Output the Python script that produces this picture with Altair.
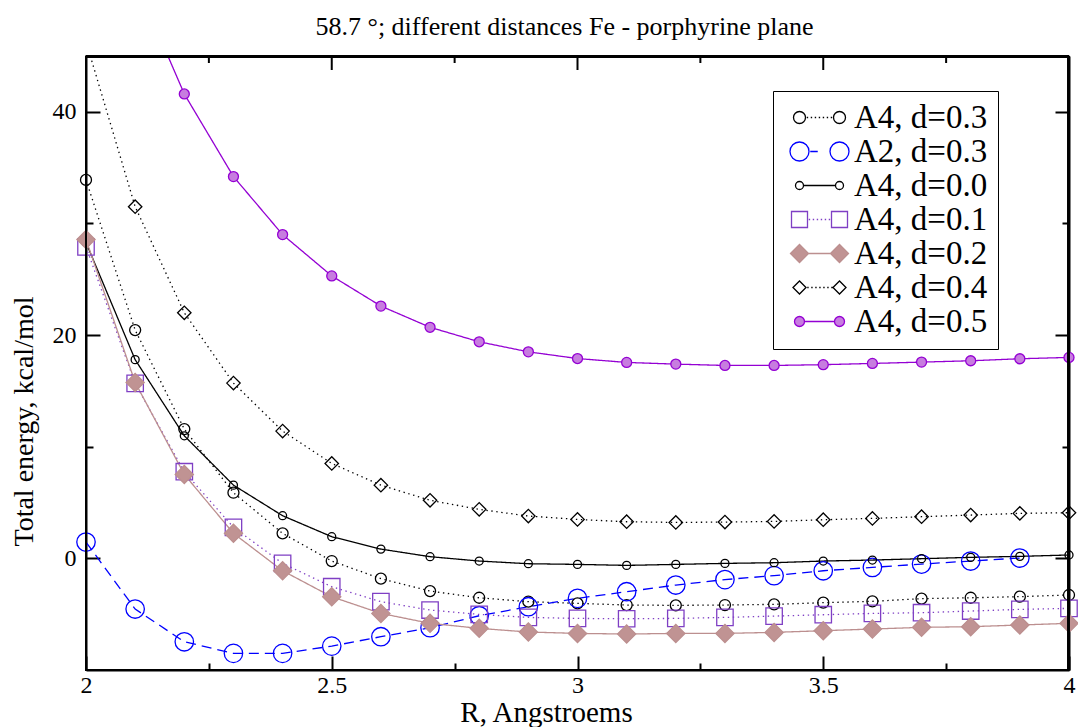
import altair as alt
import pandas as pd

# ---------------- data ----------------
r_values = [2.0, 2.1, 2.2, 2.3, 2.4, 2.5, 2.6, 2.7, 2.8, 2.9, 3.0,
            3.1, 3.2, 3.3, 3.4, 3.5, 3.6, 3.7, 3.8, 3.9, 4.0]

series_names = ["A4, d=0.3", "A2, d=0.3", "A4, d=0.0", "A4, d=0.1",
                "A4, d=0.2", "A4, d=0.4", "A4, d=0.5"]

a4_d03 = [33.9, 20.45, 11.58, 5.88, 2.24, -0.24, -1.82, -2.93, -3.53, -3.88, -4.03,
          -4.18, -4.21, -4.18, -4.12, -3.97, -3.85, -3.61, -3.53, -3.43, -3.28]
a2_d03 = [1.46, -4.54, -7.47, -8.51, -8.51, -7.86, -7.02, -6.21, -5.14, -4.33, -3.58,
          -2.99, -2.39, -1.9, -1.55, -1.11, -0.81, -0.51, -0.24, 0.03, None]
a4_d00 = [28.3, 17.8, 10.98, 6.56, 3.82, 1.94, 0.83, 0.15, -0.24, -0.48, -0.54,
          -0.63, -0.54, -0.45, -0.39, -0.24, -0.15, -0.03, 0.09, 0.18, 0.3]
a4_d01 = [27.9, 15.67, 7.76, 2.78, -0.45, -2.54, -3.88, -4.63, -5.02, -5.29, -5.38,
          -5.41, -5.38, -5.29, -5.17, -5.05, -4.93, -4.87, -4.72, -4.57, -4.48]
a4_d02 = [28.57, 15.76, 7.52, 2.24, -1.11, -3.44, -4.93, -5.82, -6.27, -6.6, -6.72,
          -6.78, -6.72, -6.72, -6.63, -6.48, -6.33, -6.18, -6.12, -5.97, -5.82]
a4_d04 = [46.3, 31.5, 22.0, 15.7, 11.4, 8.5, 6.56, 5.2, 4.39, 3.79, 3.49,
          3.28, 3.22, 3.25, 3.31, 3.46, 3.58, 3.73, 3.88, 4.03, 4.09]
a4_d05 = [None, 51.8, 41.6, 34.2, 29.0, 25.3, 22.6, 20.7, 19.4, 18.5, 17.9,
          17.55, 17.4, 17.28, 17.28, 17.35, 17.46, 17.58, 17.7, 17.88, 18.0]

all_series = [a4_d03, a2_d03, a4_d00, a4_d01, a4_d02, a4_d04, a4_d05]

x_domain = [2, 4]
y_domain = [-10, 45]
x_tick_values = [2.0, 2.25, 2.5, 2.75, 3.0, 3.25, 3.5, 3.75, 4.0]
y_tick_values = [0, 10, 20, 30, 40]

rows = []
for name, vals in zip(series_names, all_series):
    for r, v in zip(r_values, vals):
        if v is not None:
            rows.append({"R": r, "E": v, "series": name})
df = pd.DataFrame(rows)

# ---------------- styles ----------------
FONT = "Liberation Serif"
PLOT_W, PLOT_H = 983, 614
Y_PER_PX = (y_domain[1] - y_domain[0]) / PLOT_H
X_PER_PX = (x_domain[1] - x_domain[0]) / PLOT_W
stroke_colors = ["#000000", "#0000ff", "#000000", "#7f3fc4", "#bc8f8f", "#000000", "#9400d3"]
fill_colors = ["transparent", "transparent", "transparent", "transparent",
               "#c09393", "transparent", "#c77ddf"]
shapes = ["circle", "circle", "circle", "square", "diamond", "diamond", "circle"]
sizes = [121, 340, 64, 270, 330, 180, 100]
dashes = [[1.4, 3.6], [10, 6], [1, 0], [1.4, 3.6], [1, 0], [1.4, 3.6], [1, 0]]


def marker_path(kind, cx, h):
    if kind == "circle":
        return (f"M{cx - h},0 A{h},{h} 0 1,0 {cx + h},0 "
                f"A{h},{h} 0 1,0 {cx - h},0 Z")
    if kind == "square":
        return f"M{cx - h},{-h} H{cx + h} V{h} H{cx - h} Z"
    return f"M{cx - h},0 L{cx},{-h} L{cx + h},0 L{cx},{h} Z"


def link_path(x0, x1, style):
    if style == "solid":
        return f"M{x0},0 H{x1}"
    seg, step = (0.28, 0.8) if style == "dot" else (1.5, 2.5)
    out = []
    x = x0 + 0.25
    while x + seg <= x1:
        out.append(f"M{x:.2f},0 h{seg}")
        x += step
    return " ".join(out)


legend_markers = [("circle", 1.2, "dot"), ("circle", 1.9, "dash"), ("circle", 0.8, "solid"),
                  ("square", 1.6, "dot"), ("diamond", 1.8, "solid"), ("diamond", 1.3, "dot"),
                  ("circle", 1.0, "solid")]
legend_paths = []
for kind, h, style in legend_markers:
    c1, c2 = 0.0, 8.0
    legend_paths.append(" ".join([marker_path(kind, c1, h),
                                  link_path(c1 + h, c2 - h, style),
                                  marker_path(kind, c2, h)]))

x_scale = alt.Scale(domain=x_domain, nice=False, zero=False)
y_scale = alt.Scale(domain=y_domain, nice=False, zero=False)

x_tick_in = {"expr": "datum.value % 0.5 === 0 ? -14 : -7"}
y_tick_in = {"expr": "datum.value % 20 === 0 ? -14 : -7"}

common_axis = dict(domainColor="black", domainWidth=2, tickColor="black", tickWidth=2,
                   grid=False, labelFont=FONT, labelFontSize=24, labelColor="black",
                   titleFont=FONT, titleColor="black", titleFontWeight="normal")

x_axis_bottom = alt.Axis(orient="bottom", values=x_tick_values, tickSize=x_tick_in,
                         labelPadding=17, labelFlush=False,
                         labelExpr="datum.value % 0.5 === 0 ? '' + datum.value : ''",
                         title="R, Angstroems", titleFontSize=29, titleX=460, titleY=51,
                         titleBaseline="alphabetic", titleAnchor="start", titleAlign="center",
                         **common_axis)
y_axis_left = alt.Axis(orient="left", values=y_tick_values, tickSize=y_tick_in,
                       labelPadding=24, labelFlush=False,
                       labelExpr="datum.value % 20 === 0 ? '' + datum.value : ''",
                       title="Total energy, kcal/mol", titleFontSize=28, titleX=-62, titleY=365,
                       titleBaseline="middle", titleAlign="center", titleAngle=270,
                       **common_axis)
y_axis_right = alt.Axis(orient="right", values=y_tick_values, tickSize=y_tick_in,
                        labels=False, title=None, domainColor="black", domainWidth=2,
                        tickColor="black", tickWidth=2, grid=False)

base = alt.Chart(df)

lines = base.mark_line(clip=True, strokeWidth=1.3).encode(
    x=alt.X("R:Q", scale=x_scale, axis=x_axis_bottom),
    y=alt.Y("E:Q", scale=y_scale, axis=y_axis_left),
    stroke=alt.Stroke("series:N", scale=alt.Scale(domain=series_names, range=stroke_colors),
                      legend=None),
    strokeDash=alt.StrokeDash("series:N", scale=alt.Scale(domain=series_names, range=dashes),
                              legend=None),
    detail="series:N",
)

# markers outside the visible range are not drawn (as in the original plot)
points = base.transform_filter(
    f"datum.E <= {y_domain[1]}"
).mark_point(filled=True, strokeWidth=1.3, opacity=1).encode(
    x=alt.X("R:Q", scale=x_scale, axis=None),
    y=alt.Y("E:Q", scale=y_scale, axis=y_axis_right),
    shape=alt.Shape("series:N", scale=alt.Scale(domain=series_names, range=shapes), legend=None),
    stroke=alt.Stroke("series:N", scale=alt.Scale(domain=series_names, range=stroke_colors),
                      legend=None),
    fill=alt.Fill("series:N", scale=alt.Scale(domain=series_names, range=fill_colors),
                  legend=None),
    size=alt.Size("series:N", scale=alt.Scale(domain=series_names, range=sizes, type="ordinal"),
                  legend=None),
)

# frame around the plot area and inward ticks along the top, placed through the scales
frame_df = pd.DataFrame({"R": [x_domain[0]]})
top_ticks_df = pd.DataFrame({"R": x_tick_values})
right_ticks_df = pd.DataFrame({"E": y_tick_values})
y_top = y_domain[1] - 0.5 * Y_PER_PX
x_right = x_domain[1] - 0.5 * X_PER_PX

frame_rect = alt.Chart(frame_df).transform_calculate(
    fx0=f"{x_domain[0]}", fx1=f"{x_right}", fy0=f"{y_domain[0]}", fy1=f"{y_top}"
).mark_rect(fill="transparent", stroke="black", strokeWidth=2).encode(
    x=alt.X("fx0:Q", scale=x_scale, axis=None),
    x2="fx1:Q",
    y=alt.Y("fy0:Q", scale=y_scale, axis=None),
    y2="fy1:Q",
)
top_frame = alt.Chart(top_ticks_df).transform_calculate(
    fx0=f"{x_domain[0]}", fx1=f"{x_domain[1]}", fy=f"{y_top}"
).mark_rule(color="black", strokeWidth=2).encode(
    x=alt.X("fx0:Q", scale=x_scale, axis=None),
    x2="fx1:Q",
    y=alt.Y("fy:Q", scale=y_scale, axis=None),
)
right_frame = alt.Chart(right_ticks_df).transform_calculate(
    fx=f"{x_right}", fy0=f"{y_domain[0]}", fy1=f"{y_domain[1]}"
).mark_rule(color="black", strokeWidth=2).encode(
    x=alt.X("fx:Q", scale=x_scale, axis=None),
    y=alt.Y("fy0:Q", scale=y_scale, axis=None),
    y2="fy1:Q",
)
top_ticks = alt.Chart(top_ticks_df).transform_calculate(
    ts=f"{y_domain[1]}",
    te=f"{y_domain[1]} - (datum.R % 0.5 === 0 ? 14 : 7) * {Y_PER_PX}",
).mark_rule(color="black", strokeWidth=2).encode(
    x=alt.X("R:Q", scale=x_scale, axis=None),
    y=alt.Y("ts:Q", scale=y_scale, axis=None),
    y2="te:Q",
)

legend_spec = alt.Legend(title=None, orient="none", legendX=687, legendY=35,
                         labelFont=FONT, labelFontSize=33, labelColor="black",
                         labelOffset=38, symbolSize=100, symbolStrokeWidth=1.3,
                         symbolOpacity=1, padding=10, rowPadding=0, strokeColor="black",
                         fillColor="white", labelLimit=400)

legend_layer = base.transform_filter("false").mark_point(
    filled=True, strokeWidth=1.3, opacity=1
).encode(
    x=alt.X("R:Q", scale=x_scale, axis=None),
    y=alt.Y("E:Q", scale=y_scale, axis=None),
    shape=alt.Shape("series:N", scale=alt.Scale(domain=series_names, range=legend_paths),
                    legend=legend_spec),
    stroke=alt.Stroke("series:N", scale=alt.Scale(domain=series_names, range=stroke_colors),
                      legend=legend_spec),
    fill=alt.Fill("series:N", scale=alt.Scale(domain=series_names, range=fill_colors),
                  legend=legend_spec),
)

chart = alt.layer(lines, points, frame_rect, top_frame, right_frame, top_ticks,
                  legend_layer).resolve_scale(
    shape="independent", stroke="independent", fill="independent",
    strokeDash="independent", size="independent",
).resolve_axis(
    x="independent", y="independent"
).resolve_legend(
    shape="independent", stroke="independent", fill="independent"
).properties(
    width=PLOT_W, height=PLOT_H,
    title=alt.TitleParams("58.7 °; different distances Fe - porphyrine plane",
                          font=FONT, fontSize=26, fontWeight="normal", color="black",
                          anchor="middle", baseline="alphabetic", offset=21, dx=-13,
                          dy=27, frame="group"),
    autosize=alt.AutoSizeParams(type="none"),
    padding={"left": 86, "top": 56, "right": 9, "bottom": 57},
).configure_view(stroke="black", strokeWidth=2).configure(background="white")

chart.save("out.html", embed_options={"renderer": "svg", "actions": False})
